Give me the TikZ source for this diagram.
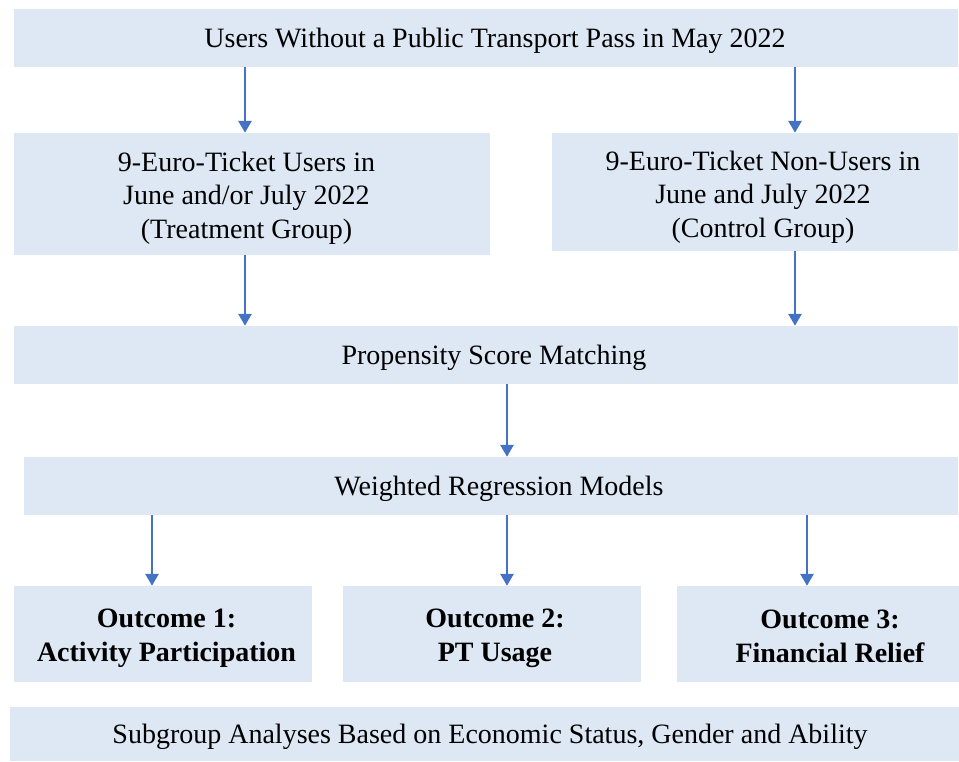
\documentclass[tikz,border=0pt]{standalone}
\usepackage{fontspec}
\setmainfont{Liberation Serif}
\usetikzlibrary{arrows.meta}
\definecolor{boxfill}{HTML}{DDE8F4}
\definecolor{arrowblue}{HTML}{4472C4}
\begin{document}
\begin{tikzpicture}[x=1pt,y=-1pt,
  box/.style={fill=boxfill, draw=none, inner sep=0pt},
  txt/.style={inner sep=0pt, align=center,
    font=\fontsize{28}{33.5}\selectfont},
  outtxt/.style={txt, font=\fontsize{28}{34}\selectfont\bfseries},
  arr/.style={draw=arrowblue, line width=2.8pt,
    -{Triangle[width=13pt,length=12pt]}}]
\useasboundingbox (0,0) rectangle (959,761);

% boxes
\node[box, minimum width=944, minimum height=58] (top) at (486,38) {};
\node[box, minimum width=476, minimum height=122] (treat) at (252,194) {};
\node[box, minimum width=406, minimum height=118] (ctrl) at (755,192) {};
\node[box, minimum width=944, minimum height=58] (psm) at (486,355) {};
\node[box, minimum width=934, minimum height=58] (wrm) at (491,486) {};
\node[box, minimum width=298, minimum height=96] (o1) at (163,634) {};
\node[box, minimum width=298, minimum height=96] (o2) at (492,634) {};
\node[box, minimum width=282, minimum height=96] (o3) at (818,634) {};
\node[box, minimum width=949, minimum height=54] (sub) at (484.5,734) {};

% box texts
\node[txt] (topt) at (495,41)
  {Users Without a Public Transport Pass in May 2022};
\node[txt] (treatt) at (246.5,198)
  {9-Euro-Ticket Users in\\June and/or July 2022\\(Treatment Group)};
\node[txt] (ctrlt) at (763,197)
  {9-Euro-Ticket Non-Users in\\June and July 2022\\(Control Group)};
\node[txt] (psmt) at (494,358) {Propensity Score Matching};
\node[txt] (wrmt) at (499,489) {Weighted Regression Models};
\node[outtxt] (o1t) at (166.5,638) {Outcome 1:\\Activity Participation};
\node[outtxt] (o2t) at (495,638) {Outcome 2:\\PT Usage};
\node[outtxt] (o3t) at (830,636) {Outcome 3:\\Financial Relief};
\node[txt] (subt) at (490,737)
  {Subgroup Analyses Based on Economic Status, Gender and Ability};

% arrow columns
\coordinate (cl) at (245,0);
\coordinate (cr) at (795,0);
\coordinate (cm) at (507,0);
\coordinate (c1) at (152,0);
\coordinate (c3) at (807,0);

% connectors
\draw[arr] (top.south -| cl) -- (treat.north -| cl);
\draw[arr] (top.south -| cr) -- (ctrl.north -| cr);
\draw[arr] (treat.south -| cl) -- (psm.north -| cl);
\draw[arr] (ctrl.south -| cr) -- (psm.north -| cr);
\draw[arr] (psm.south -| cm) -- (wrm.north -| cm);
\draw[arr] (wrm.south -| c1) -- (o1.north -| c1);
\draw[arr] (wrm.south -| cm) -- (o2.north -| cm);
\draw[arr] (wrm.south -| c3) -- (o3.north -| c3);
\end{tikzpicture}
\end{document}
